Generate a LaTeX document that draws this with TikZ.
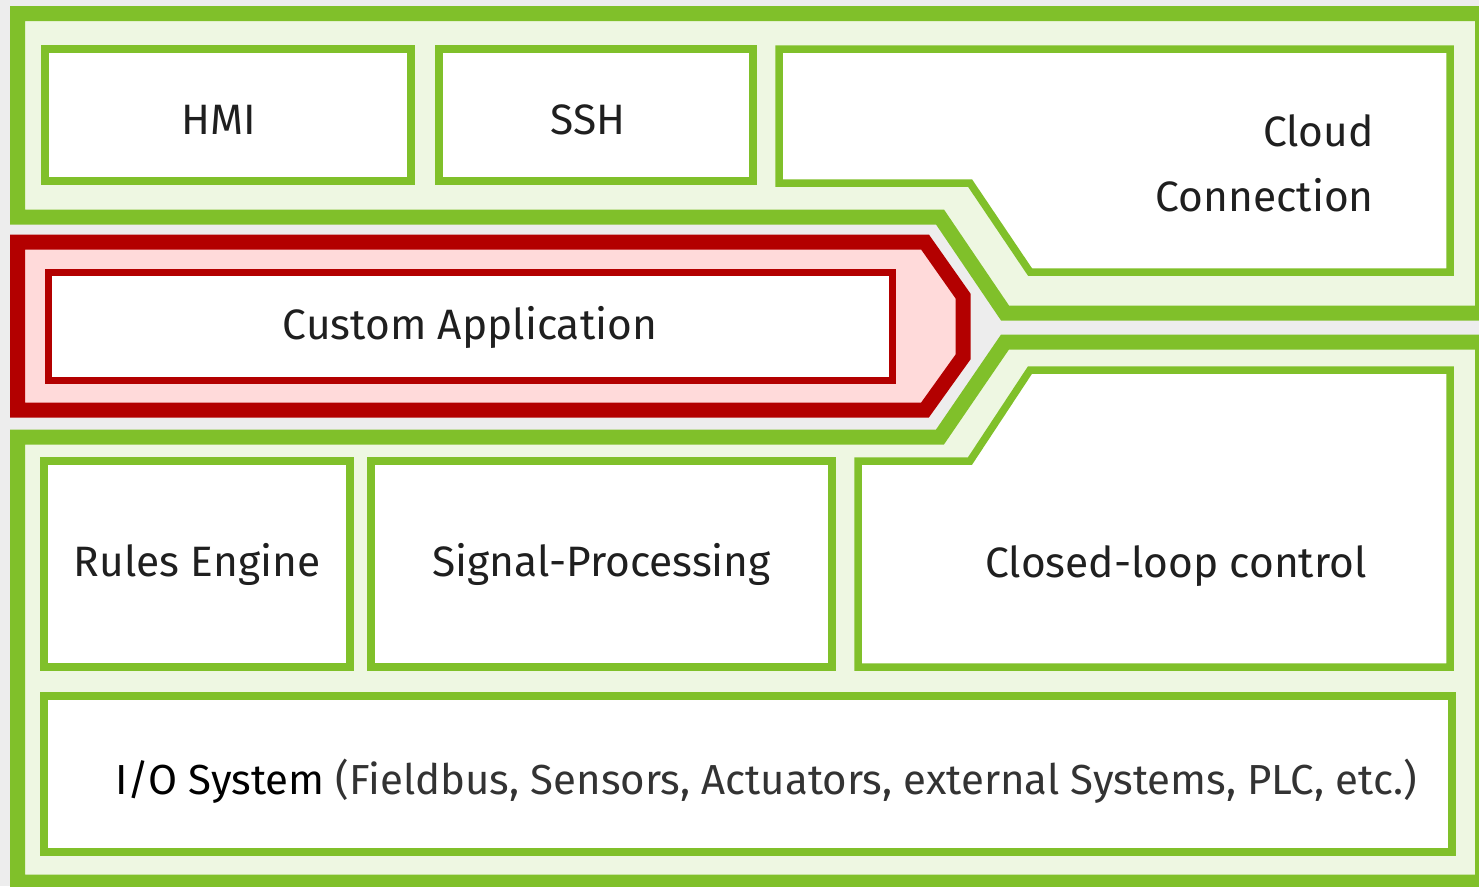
\documentclass[tikz,border=0pt]{standalone}
\usepackage{fontspec}
\setmainfont{Fira Sans}
\usetikzlibrary{positioning}

\definecolor{leaf}{HTML}{80C02A}
\definecolor{leafbg}{HTML}{EEF7E2}
\definecolor{appred}{HTML}{B30000}
\definecolor{appbg}{HTML}{FFDADA}
\definecolor{canvas}{HTML}{EDEDED}

\begin{document}
\begin{tikzpicture}[x=1pt, y=-1pt, line join=miter,
frame/.style={draw=leaf, fill=leafbg, line width=15pt},
appframe/.style={draw=appred, fill=appbg, line width=15pt},
block/.style={draw=leaf, fill=white, line width=7.5pt, inner sep=0pt},
appblock/.style={block, draw=appred, line width=7pt},
boxtext/.style={font=\fontsize{42.5}{65}\selectfont, text=black!88, inner sep=0pt}]
\useasboundingbox [fill=canvas] (0,0) rectangle (1479,886);
\clip (0,0) rectangle (1479,886);
% outer layers
\draw [frame] (17.5,13.5) -- (1482.5,13.5) -- (1482.5,313) -- (1005,313)
  -- (940,217) -- (17.5,217) -- cycle;
\draw [appframe] (17.5,242) -- (925,242) -- (963,296) -- (963,357)
  -- (925,410) -- (17.5,410) -- cycle;
\draw [frame] (17.5,437) -- (940,437) -- (1005,342) -- (1482.5,342)
  -- (1482.5,882) -- (17.5,882) -- cycle;
% top row
\node [block, minimum width=366pt, minimum height=132pt] (hmi) at (228,115) {};
\node [block, minimum width=314pt, minimum height=132pt] (ssh) at (596,115) {};
\draw [block] (779,49) -- (1450,49) -- (1450,272) -- (1030,272)
  -- (970,183) -- (779,183) -- cycle;
\node [boxtext] (hmi_t) at ([xshift=-9pt, yshift=-5pt]hmi.center) {HMI};
\node [boxtext] (ssh_t) at ([xshift=-8pt, yshift=-5pt]ssh.center) {SSH};
\node [boxtext, align=right, anchor=east] (cloud) at (1374,163) {Cloud\\Connection};
% custom application
\node [appblock, minimum width=844pt, minimum height=108pt] (app) at (470,326) {};
\node [boxtext] (app_t) at ([yshift=-1pt]app.center) {Custom Application};
% bottom row
\node [block, minimum width=306pt, minimum height=206pt] (rules) at (197,564)
  [boxtext] {Rules Engine};
\node [block, minimum width=461pt, minimum height=206pt] (signal) at (601.5,564)
  [boxtext] {Signal-Processing};
\draw [block] (858,461) -- (970,461) -- (1030,370) -- (1450,370)
  -- (1450,667) -- (858,667) -- cycle;
\node [boxtext] (control) at (1176,566) {Closed-loop control};
\node [block, minimum width=1408pt, minimum height=156pt] (io) at (748,774) {};
\node [boxtext, anchor=west, text=black, font=\fontsize{42}{50}\selectfont] (io_t) at (115,781)
  {I/O System \textcolor{black!80}{(Fieldbus, Sensors, Actuators, external Systems, PLC, etc.)}};
\end{tikzpicture}
\end{document}
